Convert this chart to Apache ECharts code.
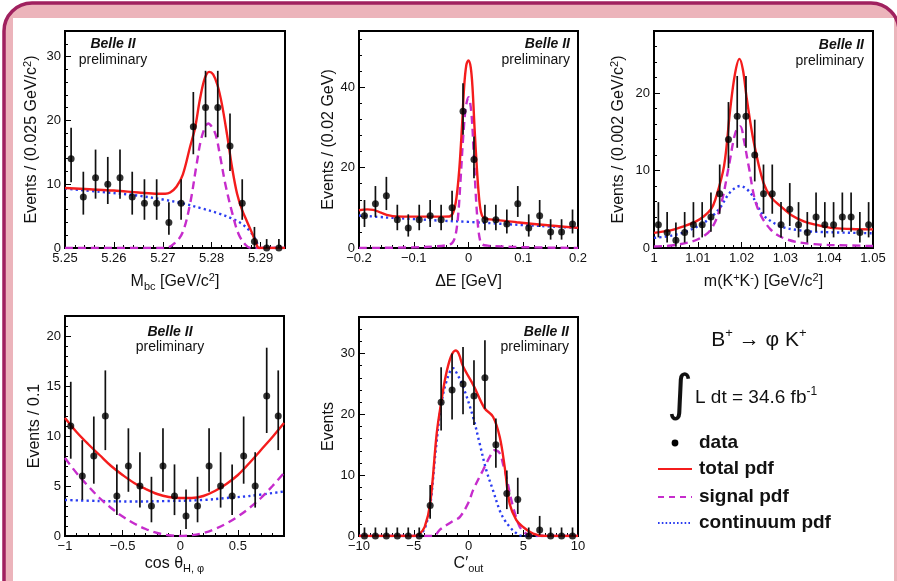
<!DOCTYPE html>
<html><head><meta charset="utf-8">
<script src="https://cdn.jsdelivr.net/npm/echarts@6/dist/echarts.min.js"></script>
<style>html,body{margin:0;padding:0;background:#fff;}#c{width:897px;height:581px;}</style>
</head><body><div id="c"></div><script>
// ---------------- DATA ----------------
// Panel 1: M_bc
const mbcX  = [5.25125,5.25375,5.25625,5.25875,5.26125,5.26375,5.26625,5.26875,5.27125,5.27375,5.27625,5.27875,5.28125,5.28375,5.28625,5.28875,5.29125,5.29375];
const mbcN  = [14,8,11,10,11,8,7,7,4,7,19,22,22,16,7,1,0,0];
const mbcLo = [10.3,5.23,7.73,6.89,7.73,5.23,4.42,4.42,2.09,4.42,14.69,17.35,17.35,12.05,4.42,0.17,0,0];
const mbcHi = [18.83,11.95,15.42,14.27,15.42,11.95,10.77,10.77,7.16,10.77,24.44,27.76,27.76,21.08,10.77,3.3,1.4,1.4];
const mbcTotal = [[5.25,9.4],[5.255,9.2],[5.26,9.0],[5.265,8.7],[5.269,8.5],[5.2705,8.5],[5.2715,8.7],[5.2728,9.6],[5.2741,11.5],[5.2756,15.9],[5.2766,18.8],[5.2776,23.3],[5.2786,26.6],[5.2795,27.6],[5.2803,27.2],[5.2812,25.5],[5.2821,22.5],[5.2832,17.5],[5.2842,12.5],[5.2852,8.5],[5.2862,6.0],[5.2872,4.2],[5.288,2.8],[5.289,1.0],[5.2897,0],[5.295,0]];
const mbcSignal = [[5.25,0],[5.2705,0],[5.2725,0.8],[5.2741,2.5],[5.2756,7],[5.2769,13],[5.278,17.5],[5.2793,19.5],[5.2807,18],[5.2817,14.5],[5.2828,10],[5.2842,5.5],[5.2855,2.2],[5.2869,0.5],[5.288,0],[5.295,0]];
const mbcCont = [[5.25,9.3],[5.2572,8.8],[5.264,8.3],[5.27,7.6],[5.274,7.0],[5.278,6.2],[5.2815,5.4],[5.2842,4.6],[5.2865,3.6],[5.2883,2.2],[5.2892,1.0],[5.2897,0],[5.295,0]];

// Panel 2: Delta E
const deX  = [-0.19,-0.17,-0.15,-0.13,-0.11,-0.09,-0.07,-0.05,-0.03,-0.01,0.01,0.03,0.05,0.07,0.09,0.11,0.13,0.15,0.17,0.19];
const deN  = [8,11,13,7,5,7,8,7,10,34,22,7,7,6,11,5,8,4,4,6];
const deLo = [5.23,7.73,9.44,4.42,2.84,4.42,5.23,4.42,6.89,28.16,17.35,4.42,4.42,3.62,7.73,2.84,5.23,2.09,2.09,3.62];
const deHi = [11.95,15.42,17.7,10.77,8.38,10.77,11.95,10.77,14.27,41.0,27.76,10.77,10.77,9.58,15.42,8.38,11.95,7.16,7.16,9.58];
const deTotal = [[-0.2,9.4],[-0.185,9.6],[-0.174,9.5],[-0.16,8.8],[-0.145,8.1],[-0.132,7.85],[-0.1,7.8],[-0.06,7.8],[-0.035,7.85],[-0.028,8.8],[-0.022,12.5],[-0.0166,20],[-0.012,30],[-0.008,40],[-0.004,45.5],[0,46.7],[0.004,45],[0.0073,40],[0.011,30],[0.0152,20],[0.019,13],[0.0226,9],[0.027,7.6],[0.035,7.2],[0.05,7.0],[0.088,6.4],[0.15,5.6],[0.2,5.0]];
const deSignal = [[-0.2,0],[-0.1,0.15],[-0.06,0.4],[-0.04,0.7],[-0.03,1.2],[-0.024,3],[-0.019,8],[-0.0145,17],[-0.01,27],[-0.005,35],[0,37.5],[0.005,34],[0.0094,24],[0.013,14],[0.017,6],[0.021,2],[0.025,0.9],[0.035,0.6],[0.06,0.4],[0.1,0.2],[0.2,0]];
const deCont = [[-0.2,8.1],[-0.15,7.6],[-0.1,7.2],[-0.05,6.8],[0,6.5],[0.05,6.1],[0.1,5.7],[0.15,5.35],[0.2,5.0]];

// Panel 3: m(K+K-)
const kkX  = [1.001,1.003,1.005,1.007,1.009,1.011,1.013,1.015,1.017,1.019,1.021,1.023,1.025,1.027,1.029,1.031,1.033,1.035,1.037,1.039,1.041,1.043,1.045,1.047,1.049];
const kkN  = [3,2,1,2,3,3,4,7,14,17,17,12,7,7,3,5,3,2,4,3,3,4,4,2,3];
const kkLo = [1.37,0.71,0.17,0.71,1.37,1.37,2.09,4.42,10.3,12.93,12.93,8.59,4.42,4.42,1.37,2.84,1.37,0.71,2.09,1.37,1.37,2.09,2.09,0.71,1.37];
const kkHi = [5.92,4.64,3.3,4.64,5.92,5.92,7.16,10.77,18.83,22.2,22.2,16.56,10.77,10.77,5.92,8.38,5.92,4.64,7.16,5.92,5.92,7.16,7.16,4.64,5.92];
const kkTotal = [[1,1.95],[1.004,2.3],[1.0068,2.8],[1.0095,3.4],[1.0114,4.1],[1.013,5.0],[1.014,6.25],[1.016,10.6],[1.0174,17.9],[1.0185,22.5],[1.0195,24.4],[1.0203,23],[1.0212,19.2],[1.0228,13.6],[1.025,8.4],[1.0268,6.5],[1.0289,5.4],[1.0315,4.2],[1.0342,3.45],[1.037,3.0],[1.0403,2.6],[1.045,2.45],[1.05,2.4]];
const kkSignal = [[1,0.2],[1.005,0.4],[1.0099,1.1],[1.013,2.4],[1.0152,5.4],[1.0171,10.6],[1.0186,14.9],[1.0197,15.7],[1.0205,14],[1.0216,10.6],[1.0235,5.4],[1.0266,2.4],[1.0304,1.1],[1.0365,0.5],[1.047,0.3],[1.05,0.25]];
const kkCont = [[1,1.3],[1.004,1.6],[1.0077,2.2],[1.0115,3.3],[1.0135,4.2],[1.0152,5.3],[1.0174,7.2],[1.0197,8.0],[1.0219,7.2],[1.0235,5.6],[1.025,4.2],[1.0289,2.8],[1.033,2.3],[1.0365,2.1],[1.05,1.9]];

// Panel 4: cos theta_H
const cosX  = [-0.95,-0.85,-0.75,-0.65,-0.55,-0.45,-0.35,-0.25,-0.15,-0.05,0.05,0.15,0.25,0.35,0.45,0.55,0.65,0.75,0.85];
const cosN  = [11,6,8,12,4,7,5,3,7,4,2,3,7,5,4,8,5,14,12];
const cosLo = [7.73,3.62,5.23,8.59,2.09,4.42,2.84,1.37,4.42,2.09,0.71,1.37,4.42,2.84,2.09,5.23,2.84,10.3,8.59];
const cosHi = [15.42,9.58,11.95,16.56,7.16,10.77,8.38,5.92,10.77,7.16,4.64,5.92,10.77,8.38,7.16,11.95,8.38,18.83,16.56];
const cosTotal = [[-1,11.8],[-0.9,10.4],[-0.8,9.2],[-0.7,8.1],[-0.6,7.0],[-0.5,6.1],[-0.4,5.3],[-0.3,4.7],[-0.2,4.2],[-0.1,3.9],[0,3.8],[0.1,3.8],[0.2,4.0],[0.3,4.5],[0.4,5.2],[0.5,6.1],[0.6,7.3],[0.7,8.6],[0.8,9.9],[0.9,11.3]];
const cosSignal = [[-1,7.8],[-0.9,6.3],[-0.8,5.0],[-0.7,3.8],[-0.6,2.8],[-0.5,1.95],[-0.4,1.25],[-0.3,0.7],[-0.2,0.3],[-0.1,0.08],[0,0],[0.1,0.08],[0.2,0.3],[0.3,0.7],[0.4,1.25],[0.5,1.95],[0.6,2.8],[0.7,3.8],[0.8,5.0],[0.9,6.3]];
const cosCont = [[-1,3.6],[-0.7,3.5],[-0.4,3.45],[-0.1,3.5],[0.2,3.6],[0.4,3.8],[0.6,4.0],[0.9,4.45]];

// Panel 5: C'out
const coX  = [-9.5,-8.5,-7.5,-6.5,-5.5,-4.5,-3.5,-2.5,-1.5,-0.5,0.5,1.5,2.5,3.5,4.5,5.5,6.5,7.5,8.5,9.5];
const coN  = [0,0,0,0,0,0,5,22,24,25,23,26,15,7,6,0,1,0,0,0];
const coLo = [0,0,0,0,0,0,2.84,17.35,19.14,20.03,18.24,20.93,11.2,4.42,3.62,0,0.17,0,0,0];
const coHi = [1.4,1.4,1.4,1.4,1.4,1.4,8.38,27.76,29.98,31.08,28.87,32.18,19.3,10.77,9.58,1.4,3.3,1.4,1.4,1.4];
const coTotal = [[-10,0],[-5,0],[-4.5,0.3],[-4,1.5],[-3.5,5.3],[-2.9,16.9],[-2.5,21.9],[-2.08,26.3],[-1.6,29.5],[-1.17,30.5],[-0.9,30],[-0.5,27.9],[0.5,24.6],[1.47,21.0],[2.24,19.6],[2.85,16.3],[3.3,11.4],[3.76,5.3],[4.37,2.6],[4.98,1.5],[5.9,0.4],[7,0],[10,0]];
const coSignal = [[-10,0],[-3.2,0],[-2.63,1.0],[-2,1.8],[-1.4,2.5],[-0.8,3.1],[0,5.5],[0.41,7.5],[1.32,10.8],[2.0,13.2],[2.39,14.1],[2.85,13.6],[3.2,11.5],[3.46,9.7],[3.8,6.8],[4.07,4.8],[4.4,2.8],[4.68,1.5],[5.1,0.6],[5.6,0.1],[6.5,0],[10,0]];
const coCont = [[-10,0],[-5,0],[-4.5,0.2],[-4,1.2],[-3.5,5],[-3,14],[-2.5,21.5],[-2,25.5],[-1.41,27.6],[-1,26.5],[-0.5,24.6],[0.41,19.6],[1.02,15.2],[1.63,10.8],[2.24,7.5],[2.85,4.2],[3.3,2.6],[3.76,1.5],[4.2,0.7],[4.68,0.1],[5.5,0],[10,0]];

// ---------------- LAYOUT ----------------
const FF = 'Liberation Sans, Arial, Helvetica, sans-serif';
const RED = '#f41c1c', MAG = '#c62ccc', BLUE = '#2a3cf0';
const rich = {
  n:   {fontSize:16, fontFamily:FF, color:'#111', lineHeight:20},
  sup: {fontSize:11, fontFamily:FF, color:'#111', verticalAlign:'top', lineHeight:11},
  sub: {fontSize:11, fontFamily:FF, color:'#111', verticalAlign:'bottom', lineHeight:11}
};
const panels = [
  {grid:{left:65,top:31,width:220,height:217}, xmin:5.25, xmax:5.295, xint:0.01, ymax:34, yint:10,
   xname:'{n|M}{sub|bc}{n| [GeV/c}{sup|2}{n|]}', yname:'{n|Events / (0.025 GeV/c}{sup|2}{n|)}', xgap:24, ygap:23,
   x:mbcX, n:mbcN, lo:mbcLo, hi:mbcHi, tot:mbcTotal, sig:mbcSignal, cont:mbcCont, showMaxX:false},
  {grid:{left:359,top:31,width:219,height:217}, xmin:-0.2, xmax:0.2, xint:0.1, ymax:54, yint:20,
   xname:'{n|ΔE [GeV]}', yname:'{n|Events / (0.02 GeV)}', xgap:24, ygap:17,
   x:deX, n:deN, lo:deLo, hi:deHi, tot:deTotal, sig:deSignal, cont:deCont, showMaxX:true},
  {grid:{left:654,top:31,width:219,height:217}, xmin:1, xmax:1.05, xint:0.01, ymax:28, yint:10,
   xname:'{n|m(K}{sup|+}{n|K}{sup|-}{n|) [GeV/c}{sup|2}{n|]}', yname:'{n|Events / (0.002 GeV/c}{sup|2}{n|)}', xgap:24, ygap:25,
   x:kkX, n:kkN, lo:kkLo, hi:kkHi, tot:kkTotal, sig:kkSignal, cont:kkCont, showMaxX:true},
  {grid:{left:65,top:316,width:219,height:220}, xmin:-1, xmax:0.9, xint:0.5, ymax:22, yint:5,
   xname:'{n|cos θ}{sub|H, φ}', yname:'{n|Events / 0.1}', xgap:18, ygap:20,
   x:cosX, n:cosN, lo:cosLo, hi:cosHi, tot:cosTotal, sig:cosSignal, cont:cosCont, showMaxX:false},
  {grid:{left:359,top:317,width:219,height:219}, xmin:-10, xmax:10, xint:5, ymax:36, yint:10,
   xname:'{n|C′}{sub|out}', yname:'{n|Events}', xgap:18, ygap:20,
   x:coX, n:coN, lo:coLo, hi:coHi, tot:coTotal, sig:coSignal, cont:coCont, showMaxX:true}
];

function fmt(v){ return parseFloat(Number(v).toFixed(6)).toString().replace('-', '\u2212'); }

const grids=[], xAxes=[], yAxes=[], series=[];
panels.forEach((p,i)=>{
  grids.push(Object.assign({show:true, borderColor:'#000', borderWidth:2, backgroundColor:'rgba(0,0,0,0)'}, p.grid));
  const common = {
    type:'value', gridIndex:i, axisLine:{show:false, onZero:false},
    axisTick:{show:true, inside:true, length:6, lineStyle:{color:'#000', width:1}},
    minorTick:{show:true, splitNumber:5, length:3, lineStyle:{color:'#000', width:1}},
    splitLine:{show:false}, minorSplitLine:{show:false},
    nameLocation:'middle', nameTextStyle:{rich:rich}
  };
  xAxes.push(Object.assign({}, common, {position:'bottom', min:p.xmin, max:p.xmax, interval:p.xint,
    axisLabel:{formatter:fmt, color:'#111', fontSize:13, fontFamily:FF, margin:4, showMaxLabel:p.showMaxX, showMinLabel:true},
    name:p.xname, nameGap:p.xgap}));
  yAxes.push(Object.assign({}, common, {position:'left', min:0, max:p.ymax, interval:p.yint,
    axisLabel:{formatter:fmt, color:'#111', fontSize:13, fontFamily:FF, margin:4, showMaxLabel:false, showMinLabel:true},
    name:p.yname, nameGap:p.ygap}));
  series.push({type:'line', xAxisIndex:i, yAxisIndex:i, data:p.cont, showSymbol:false, smooth:0.35, z:3,
    lineStyle:{color:BLUE, width:2.4, type:[2.2,3.2]}, silent:true});
  series.push({type:'line', xAxisIndex:i, yAxisIndex:i, data:p.sig, showSymbol:false, smooth:0.35, z:3,
    lineStyle:{color:MAG, width:2.4, type:[8,5]}, silent:true});
  series.push({type:'line', xAxisIndex:i, yAxisIndex:i, data:p.tot, showSymbol:false, smooth:0.35, z:4,
    lineStyle:{color:RED, width:2.4}, silent:true});
  series.push({type:'custom', xAxisIndex:i, yAxisIndex:i, z:5, silent:true,
    data:p.x.map((v,k)=>[v, p.lo[k], p.hi[k]]), encode:{x:0, y:[1,2]},
    renderItem:function(params, api){
      const a = api.coord([api.value(0), api.value(1)]);
      const b = api.coord([api.value(0), api.value(2)]);
      return {type:'line', shape:{x1:a[0], y1:a[1], x2:b[0], y2:b[1]}, style:{stroke:'#111', lineWidth:1.7}};
    }});
  series.push({type:'scatter', xAxisIndex:i, yAxisIndex:i, z:6, silent:true,
    data:p.x.map((v,k)=>[v, p.n[k]]), symbol:'circle', symbolSize:7, itemStyle:{color:'#000'}});
});

function txt(text, x, y, opts){
  return {type:'text', x:x, y:y, z:100, style:Object.assign({text:text, fill:'#111', font:'14px '+FF, align:'center', verticalAlign:'middle'}, opts||{})};
}
const BI = {font:'italic bold 14px '+FF};
const PR = {font:'14px '+FF};
const LG = {align:'left', font:'bold 19px '+FF};
const graphics = [
  {type:'rect', z:-10, silent:true, shape:{x:4, y:3, width:895, height:640, r:28}, style:{fill:'#ecb4bb', stroke:'#a0215f', lineWidth:3.5}},
  {type:'rect', z:-9, silent:true, shape:{x:13, y:18, width:881, height:600}, style:{fill:'#ffffff'}},
  // Belle II labels
  txt('Belle II', 113, 44, BI), txt('preliminary', 113, 60, PR),
  txt('Belle II', 570, 44, Object.assign({align:'right'}, BI)), txt('preliminary', 570, 60, Object.assign({align:'right'}, PR)),
  txt('Belle II', 864, 45, Object.assign({align:'right'}, BI)), txt('preliminary', 864, 61, Object.assign({align:'right'}, PR)),
  txt('Belle II', 170, 332, BI), txt('preliminary', 170, 347, PR),
  txt('Belle II', 569, 332, Object.assign({align:'right'}, BI)), txt('preliminary', 569, 347, Object.assign({align:'right'}, PR)),
  // Right legend
  {type:'text', x:759, y:340, z:100, style:{text:'{a|B}{s|+}{a| → φ K}{s|+}', align:'center', verticalAlign:'middle',
     rich:{a:{fontSize:21, fontFamily:FF, fill:'#111', lineHeight:26}, s:{fontSize:13, fontFamily:FF, fill:'#111', verticalAlign:'top', lineHeight:13}}}},
  {type:'text', x:680, y:397, z:100, style:{text:'∫', font:'50px DejaVu Sans', fill:'#111', align:'center', verticalAlign:'middle'}},
  {type:'text', x:695, y:398, z:100, style:{text:'{a|L dt = 34.6 fb}{s|-1}', align:'left', verticalAlign:'middle',
     rich:{a:{fontSize:19, fontFamily:FF, fill:'#111', lineHeight:24}, s:{fontSize:12, fontFamily:FF, fill:'#111', verticalAlign:'top', lineHeight:12}}}},
  {type:'circle', z:100, shape:{cx:675, cy:443, r:3.4}, style:{fill:'#000'}},
  {type:'line', z:100, shape:{x1:658, y1:469, x2:692, y2:469}, style:{stroke:RED, lineWidth:2.2}},
  {type:'line', z:100, shape:{x1:658, y1:497, x2:692, y2:497}, style:{stroke:MAG, lineWidth:2.2, lineDash:[6,5]}},
  {type:'line', z:100, shape:{x1:658, y1:523, x2:692, y2:523}, style:{stroke:BLUE, lineWidth:2.2, lineDash:[1.6,2.2]}},
  txt('data', 699, 443, LG),
  txt('total pdf', 699, 469, LG),
  txt('signal pdf', 699, 497, LG),
  txt('continuum pdf', 699, 523, LG)
];

const chart = echarts.init(document.getElementById('c'), null, {renderer:'canvas'});
chart.setOption({animation:false, backgroundColor:'#ffffff', grid:grids, xAxis:xAxes, yAxis:yAxes, series:series, graphic:graphics});
</script></body></html>
